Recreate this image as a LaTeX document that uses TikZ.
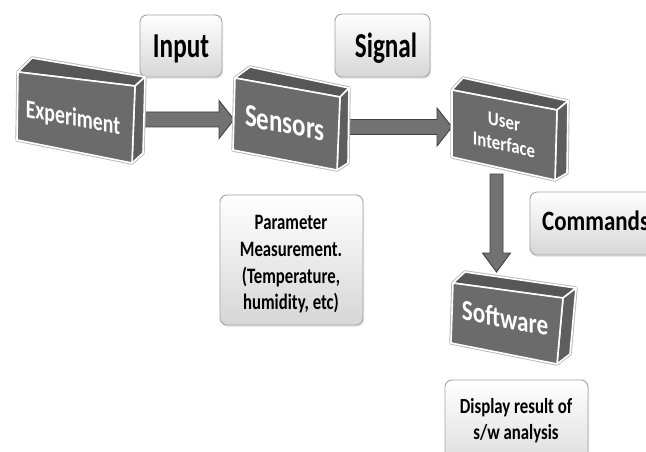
\documentclass[tikz,border=0pt]{standalone}
\usepackage{fontspec}
\setmainfont{Carlito}
\usetikzlibrary{calc,shadows}
\definecolor{frontgray}{HTML}{6B6B6B}
\definecolor{topgray}{HTML}{575757}
\definecolor{sidegray}{HTML}{5E5E5E}
\definecolor{arrowgray}{HTML}{727272}
\definecolor{arrowline}{HTML}{404040}
\definecolor{boxline}{HTML}{A4A4A4}
\definecolor{boxbottom}{HTML}{D6D6D6}
% size, baselineskip, horizontal stretch
\newcommand\myfs[3]{\addfontfeatures{FakeStretch=#3}\fontsize{#1}{#2}\selectfont}
% cube: front TL, TR, BR, BL, back TL, back TR, side bottom
\newcommand\drawcube[7]{%
  \path[cubeoutline] (#1) -- (#5) -- (#6) -- (#7) -- (#3) -- (#4) -- cycle;
  \path[cubetop] (#1) -- (#5) -- (#6) -- (#2) -- cycle;
  \path[cubeside] (#2) -- (#6) -- (#7) -- (#3) -- cycle;
  \path[cubefront] (#1) -- (#2) -- (#3) -- (#4) -- cycle;}
% horizontal block arrow from #1 to tip #2
\newcommand\harrow[2]{%
  \path[blockarrow] ($(#1)+(0,-7.5)$) -- ($(#2)+(-15,-7.5)$) -- ($(#2)+(-15,-19)$)
    -- (#2) -- ($(#2)+(-15,19)$) -- ($(#2)+(-15,7.5)$) -- ($(#1)+(0,7.5)$) -- cycle;}
% vertical block arrow from #1 down to tip #2
\newcommand\varrow[2]{%
  \path[blockarrow] ($(#1)+(-6.5,0)$) -- ($(#2)+(-6.5,-19)$) -- ($(#2)+(-14,-19)$)
    -- (#2) -- ($(#2)+(14,-19)$) -- ($(#2)+(6.5,-19)$) -- ($(#1)+(6.5,0)$) -- cycle;}
\tikzset{
  cubeoutline/.style={fill=frontgray, draw=gray!55, line width=3.4pt, line join=round},
  cubetop/.style={fill=topgray, draw=white, line width=1.6pt, line join=round},
  cubeside/.style={fill=sidegray, draw=white, line width=1.6pt, line join=round},
  cubefront/.style={fill=frontgray, draw=white, line width=1.6pt, line join=round},
  blockarrow/.style={fill=arrowgray, draw=arrowline, line width=0.9pt, line join=miter},
  labelbox/.style={draw=boxline, line width=0.9pt, rounded corners=7pt,
    top color=white, bottom color=boxbottom,
    drop shadow={opacity=0.18, shadow xshift=1pt, shadow yshift=-2pt}},
  cubetext/.style={text=white, font=\bfseries, inner sep=0pt, yslant=-0.19, align=center},
  labeltext/.style={text=black, font=\bfseries, inner sep=0pt, align=center},
}
\begin{document}
\begin{tikzpicture}[x=1pt, y=-1pt]
\clip (0,0) rectangle (646,452);
\fill[white] (0,0) rectangle (646,452);

% label boxes
\path[labelbox] (140,15) rectangle (222,77);
\path[labelbox] (335,14) rectangle (430,77);
\path[labelbox] (530,192) rectangle (700,255);
\path[labelbox] (220,195) rectangle (363,325);
\path[labelbox] (445,380) rectangle (588,480);

\node[labeltext, anchor=base] (input) at (181,58) {\myfs{35}{42}{0.72}Input};
\node[labeltext, anchor=base] (signal) at (386,58) {\myfs{35}{42}{0.72}Signal};
\node[labeltext, anchor=base west] (commands) at (542,230) {\myfs{28}{34}{0.82}Commands};
\node[labeltext, anchor=north] (param) at (291,211) {\myfs{22}{26.7}{0.76}\begin{tabular}{@{}c@{}}Parameter\\Measurement.\\(Temperature,\\humidity, etc)\end{tabular}};
\node[labeltext, anchor=north] (display) at (516,395) {\myfs{21.5}{26}{0.78}\begin{tabular}{@{}c@{}}Display result of\\s/w analysis\end{tabular}};

% arrows
\coordinate (a1s) at (141,119.5);
\coordinate (a1t) at (234,119.5);
\coordinate (a2s) at (349,127);
\coordinate (a2t) at (452,127);
\coordinate (a3s) at (496.5,174);
\coordinate (a3t) at (496.5,272);
\harrow{a1s}{a1t}
\harrow{a2s}{a2t}
\varrow{a3s}{a3t}

% cubes
\drawcube{18,72}{135,86}{132,163}{17,140}{32,58}{145,77}{143,153}
\drawcube{235,78}{340,97}{337,170}{233,150}{250,67}{349,88}{348,163}
\drawcube{452,90}{557,110}{555,180}{452,157}{463,78}{568,101}{567,173}
\drawcube{453,283}{563,298}{557,364}{451,343}{465,272}{576,288}{570,354}

\node[cubetext] (experiment) at (73,119) {\myfs{26}{30}{0.76}Experiment};
\node[cubetext] (sensors) at (285,123) {\myfs{32}{36}{0.78}Sensors};
\node[cubetext, yslant=-0.03] (ui) at (504,135) {\myfs{20}{23}{0.84}\begin{tabular}{@{}c@{}}User\\Interface\end{tabular}};
\node[cubetext] (software) at (505,318) {\myfs{29}{33}{0.8}Software};
\end{tikzpicture}
\end{document}
